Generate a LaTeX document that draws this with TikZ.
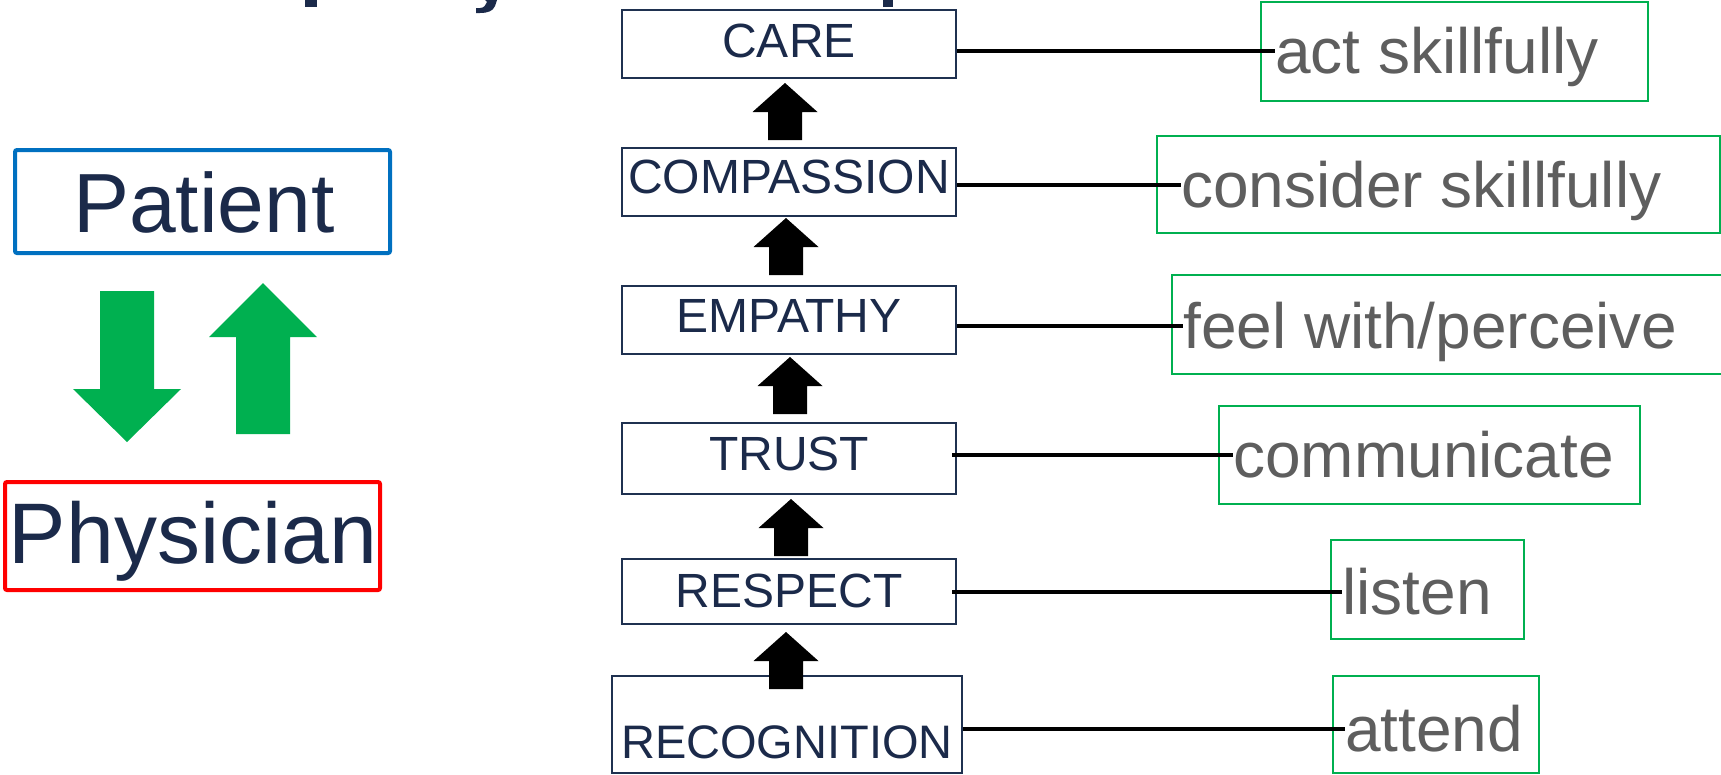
\documentclass[tikz,border=0pt]{standalone}
\usepackage{fontspec}
\setmainfont{Liberation Sans}
\definecolor{navy}{HTML}{1B2A4A}
\definecolor{navyline}{HTML}{1F3150}
\definecolor{softgray}{HTML}{5E5E5E}
\definecolor{grn}{HTML}{00B050}
\definecolor{blu}{HTML}{0070C0}
\definecolor{rd}{HTML}{FF0000}
\tikzset{
  stagebox/.style={draw=navyline, line width=2pt, inner sep=0pt},
  stagetext/.style={text=navy, font=\fontsize{48}{56}\selectfont, inner sep=0pt, anchor=base},
  actionbox/.style={draw=grn, line width=2.5pt, inner sep=0pt},
  actiontext/.style={text=softgray, font=\fontsize{64}{76}\selectfont, inner sep=0pt,
                     anchor=base west, text height=44pt, text depth=0pt},
  rolebox/.style={line width=4pt, rounded corners=2pt, inner sep=0pt},
  roletext/.style={text=navy, font=\fontsize{84}{100}\selectfont, inner sep=0pt, anchor=base},
  link/.style={line width=4.5pt, black},
  uparrow/.pic={\fill[black] (0,0) -- (32.5,29) -- (17,29) -- (17,57) -- (-17,57) -- (-17,29) -- (-32.5,29) -- cycle;}
}
\begin{document}
\begin{tikzpicture}[x=1pt,y=-1pt]
\useasboundingbox (0,0) rectangle (1721,774);

% descenders of the heading line above
\fill[navy] (305,0) rectangle (317,7);
\fill[navy] (485,0) -- (497,0) -- (495,6) .. controls (493,11) and (488,13) .. (480,13) -- (476,13) -- (476,8) -- (480,8) .. controls (484,8) and (486,5) .. (487,2) -- cycle;
\fill[navy] (883,0) rectangle (893,7);

% patient / physician
\node[rolebox, draw=blu, minimum width=375, minimum height=103] (patientBox) at (202.5,201.5) {};
\node[roletext] (patientTxt) at (204,232) {Patient};
\node[rolebox, draw=rd, minimum width=375, minimum height=108] (physBox) at (192.5,536) {};
\node[roletext, font=\fontsize{86}{100}\selectfont] (physTxt) at (193,563) {Physician};

% green exchange arrows
\fill[grn] (100,291) -- (154,291) -- (154,389) -- (181,389) -- (127,442) -- (73,389) -- (100,389) -- cycle;
\fill[grn] (236,434) -- (290,434) -- (290,337) -- (317,337) -- (263,283) -- (209,337) -- (236,337) -- cycle;

% stages
\node[stagebox, minimum width=334, minimum height=68] (care) at (789,44) {};
\node[stagetext] (careTxt) at (789,57) {CARE};
\node[stagebox, minimum width=334, minimum height=68] (compassion) at (789,182) {};
\node[stagetext] (compassionTxt) at (789,193) {COMPASSION};
\node[stagebox, minimum width=334, minimum height=68] (empathy) at (789,320) {};
\node[stagetext] (empathyTxt) at (789,332) {EMPATHY};
\node[stagebox, minimum width=334, minimum height=71] (trust) at (789,458.5) {};
\node[stagetext] (trustTxt) at (789,470) {TRUST};
\node[stagebox, minimum width=334, minimum height=65] (respect) at (789,591.5) {};
\node[stagetext] (respectTxt) at (789,607) {RESPECT};
\node[stagebox, minimum width=350, minimum height=97] (recognition) at (787,724.5) {};
\node[stagetext, font=\fontsize{47}{56}\selectfont] (recognitionTxt) at (787,758) {RECOGNITION};

% upward arrows between stages
\pic at (785,83) {uparrow};
\pic at (786,218) {uparrow};
\pic at (790,357) {uparrow};
\pic at (791,499) {uparrow};
\pic at (786,632) {uparrow};

% actions
\node[actionbox, minimum width=387, minimum height=99] (actBox) at (1454.5,51.5) {};
\node[actiontext] (actTxt) at (1275,73) {act skillfully};
\node[actionbox, minimum width=563, minimum height=97] (considerBox) at (1438.5,184.5) {};
\node[actiontext] (considerTxt) at (1181,207) {consider skillfully};
\node[actionbox, minimum width=570, minimum height=99] (feelBox) at (1457,324.5) {};
\node[actiontext] (feelTxt) at (1183,348) {feel with/perceive};
\node[actionbox, minimum width=421, minimum height=98] (commBox) at (1429.5,455) {};
\node[actiontext] (commTxt) at (1233,477) {communicate};
\node[actionbox, minimum width=193, minimum height=99] (listenBox) at (1427.5,589.5) {};
\node[actiontext] (listenTxt) at (1342,614) {listen};
\node[actionbox, minimum width=206, minimum height=97] (attendBox) at (1436,724.5) {};
\node[actiontext] (attendTxt) at (1345,751) {attend};

% connectors
\draw[link] (care.east |- actTxt.west) -- (actTxt.west);
\draw[link] (compassion.east |- considerTxt.west) -- (considerTxt.west);
\draw[link] (empathy.east |- feelTxt.west) -- (feelTxt.west);
\draw[link] ([xshift=-5pt]trust.east |- commTxt.west) -- (commTxt.west);
\draw[link] ([xshift=-5pt]respect.east |- listenTxt.west) -- (listenTxt.west);
\draw[link] (recognition.east |- attendTxt.west) -- (attendTxt.west);
\end{tikzpicture}
\end{document}
